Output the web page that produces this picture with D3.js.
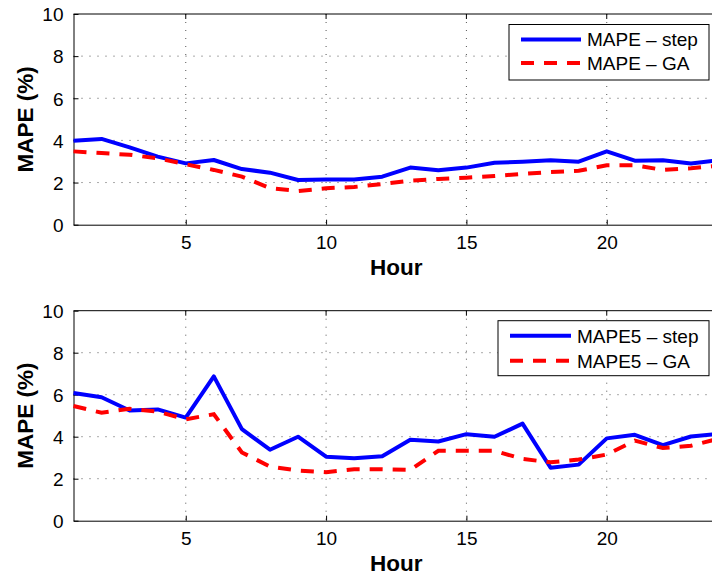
<!DOCTYPE html>
<html>
<head>
<meta charset="utf-8">
<script src="https://cdn.jsdelivr.net/npm/d3@7"></script>
<style>
  html, body { margin: 0; padding: 0; background: #fff; }
  svg { display: block; font-family: "Liberation Sans", Arial, Helvetica, sans-serif; }
</style>
</head>
<body>
<svg id="chart" width="712" height="576"></svg>
<script>
// Hourly error of the two forecasting approaches
const hours = d3.range(1, 25);
const mapeStep = [3.99, 4.07, 3.67, 3.23, 2.91, 3.07, 2.64, 2.47, 2.12, 2.14, 2.15, 2.28,
                  2.71, 2.58, 2.71, 2.94, 2.99, 3.06, 2.99, 3.48, 3.04, 3.06, 2.90, 3.06];
const mapeGA   = [3.48, 3.40, 3.32, 3.15, 2.87, 2.60, 2.28, 1.74, 1.60, 1.73, 1.79, 1.93,
                  2.09, 2.17, 2.23, 2.31, 2.41, 2.50, 2.56, 2.82, 2.82, 2.60, 2.68, 2.80];
const mape5Step = [6.08, 5.88, 5.25, 5.30, 4.91, 6.87, 4.36, 3.38, 4.00, 3.05, 2.97, 3.07,
                   3.85, 3.77, 4.12, 4.00, 4.62, 2.52, 2.67, 3.92, 4.09, 3.60, 4.01, 4.13];
const mape5GA   = [5.46, 5.14, 5.33, 5.19, 4.83, 5.07, 3.25, 2.58, 2.39, 2.31, 2.45, 2.45,
                   2.42, 3.33, 3.33, 3.33, 2.94, 2.78, 2.91, 3.15, 3.81, 3.46, 3.57, 3.91];

const xTicks = [5, 10, 15, 20];
const yTicks = [0, 2, 4, 6, 8, 10];
const xTitle = "Hour";
const yTitle = "MAPE (%)";
const topNames = ["MAPE \u2013 step", "MAPE \u2013 GA"];
const bottomNames = ["MAPE5 \u2013 step", "MAPE5 \u2013 GA"];

const svg = d3.select("#chart");
const left = 73.5, right = 719;
const x = d3.scaleLinear().domain([1, 24]).range([left, right]);

function panel(top, bottom, stepVals, gaVals, names, legendBox) {
  const y = d3.scaleLinear().domain([0, 10]).range([bottom, top]);
  const g = svg.append("g");

  // dotted grid
  g.selectAll(".gx").data(xTicks).join("line")
    .attr("x1", d => x(d)).attr("x2", d => x(d))
    .attr("y1", top).attr("y2", bottom)
    .attr("stroke", "#555").attr("stroke-width", 1).attr("stroke-dasharray", "1,7");
  g.selectAll(".gy").data(yTicks.filter(t => t > 0 && t < 10)).join("line")
    .attr("x1", left).attr("x2", right)
    .attr("y1", d => y(d)).attr("y2", d => y(d))
    .attr("stroke", "#555").attr("stroke-width", 1).attr("stroke-dasharray", "1,7");

  // axes (ticks point inward)
  const xAxis = d3.axisBottom(x).tickValues(xTicks).tickSizeInner(-5).tickSizeOuter(0).tickPadding(11);
  const ax = g.append("g").attr("transform", `translate(0,${bottom})`).call(xAxis);
  const yAxis = d3.axisLeft(y).tickValues(yTicks).tickSizeInner(-5).tickSizeOuter(0).tickPadding(10);
  const ay = g.append("g").attr("transform", `translate(${left},0)`).call(yAxis);
  [ax, ay].forEach(a => {
    a.selectAll("text").attr("font-size", 19).attr("fill", "#000")
      .attr("font-family", "'Liberation Sans', Arial, sans-serif");
    a.selectAll("line").attr("stroke", "#000");
    a.select(".domain").attr("stroke", "#000");
  });
  ay.selectAll("text").attr("dy", "0.36em");
  ax.selectAll("text").attr("dy", "0.72em");

  // frame top and right
  g.append("line").attr("x1", left).attr("x2", right).attr("y1", top).attr("y2", top).attr("stroke", "#000");
  g.append("line").attr("x1", right).attr("x2", right).attr("y1", top).attr("y2", bottom).attr("stroke", "#000");
  // top tick marks
  g.selectAll(".tt").data(xTicks).join("line")
    .attr("x1", d => x(d)).attr("x2", d => x(d)).attr("y1", top).attr("y2", top + 5).attr("stroke", "#000");

  const line = d3.line().x((d, i) => x(hours[i])).y(d => y(d));
  g.append("path").datum(stepVals).attr("d", line)
    .attr("fill", "none").attr("stroke", "#0000ff").attr("stroke-width", 4).attr("stroke-linejoin", "round");
  g.append("path").datum(gaVals).attr("d", line)
    .attr("fill", "none").attr("stroke", "#ff0000").attr("stroke-width", 4).attr("stroke-dasharray", "13,10");

  // titles
  g.append("text").attr("x", (left + right) / 2).attr("y", bottom + 50)
    .attr("text-anchor", "middle").attr("font-weight", "bold").attr("font-size", 22.5).text(xTitle);
  g.append("text").attr("transform", `translate(33,${(top + bottom) / 2}) rotate(-90)`)
    .attr("text-anchor", "middle").attr("font-weight", "bold").attr("font-size", 22.5).text(yTitle);

  // legend
  const lb = legendBox;
  g.append("rect").attr("x", lb.x).attr("y", lb.y).attr("width", lb.w).attr("height", lb.h)
    .attr("fill", "#fff").attr("stroke", "#000").attr("stroke-width", 1);
  const rows = [
    { name: names[0], color: "#0000ff", dash: null },
    { name: names[1], color: "#ff0000", dash: "13,10" }
  ];
  rows.forEach((r, i) => {
    const ry = lb.y + lb.r0 + i * lb.dy;
    g.append("line").attr("x1", lb.lx0).attr("x2", lb.lx1).attr("y1", ry).attr("y2", ry)
      .attr("stroke", r.color).attr("stroke-width", 4).attr("stroke-dasharray", r.dash);
    g.append("text").attr("x", lb.lx1 + 6).attr("y", ry).attr("dy", "0.36em")
      .attr("font-size", 19).text(r.name);
  });
}

panel(14, 224.7, mapeStep, mapeGA, topNames,
      { x: 509, y: 24.5, w: 200, h: 55.5, r0: 15, dy: 23.5, lx0: 521, lx1: 581 });
panel(310.7, 520.7, mape5Step, mape5GA, bottomNames,
      { x: 498, y: 320.7, w: 211, h: 55, r0: 15, dy: 25, lx0: 510, lx1: 571 });
</script>
</body>
</html>
